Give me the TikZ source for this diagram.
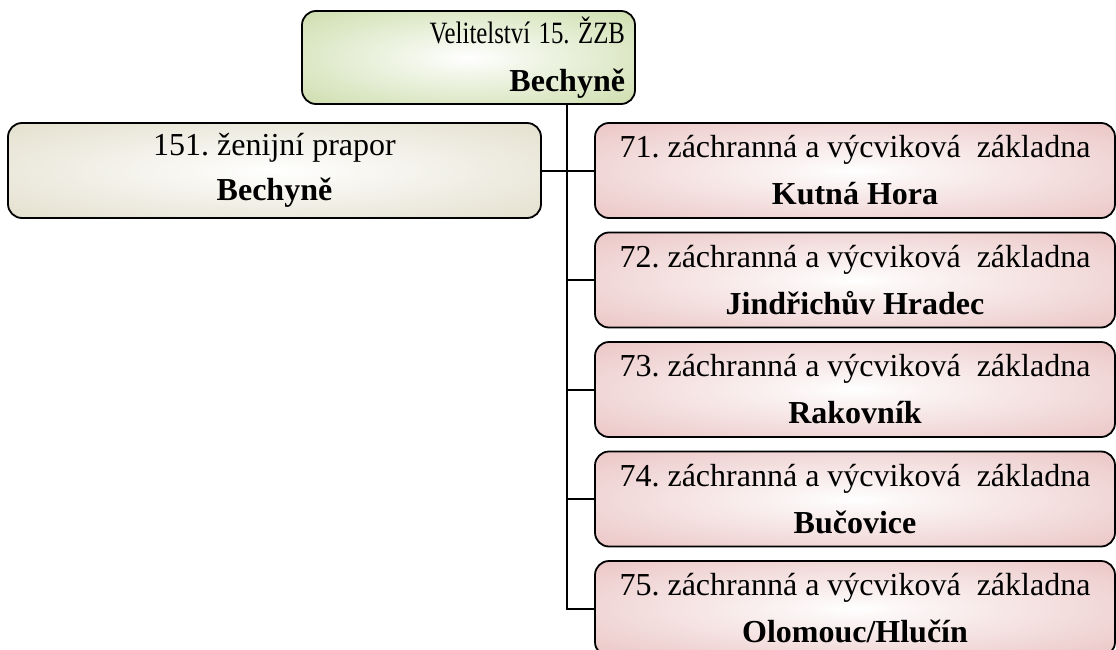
\documentclass[tikz,border=0pt]{standalone}
\usepackage{fontspec}
\setmainfont{Liberation Serif}

\definecolor{hqgreen}{HTML}{C3D69B}
\definecolor{prtan}{HTML}{DDD9C3}
\definecolor{zvzred}{HTML}{E6B9B8}

\pgfdeclareradialshading{hqglow}{\pgfpoint{0bp}{0bp}}{color(0bp)=(white); color(8bp)=(hqgreen!20!white); color(44bp)=(hqgreen); color(50bp)=(hqgreen)}
\pgfdeclareradialshading{prglow}{\pgfpoint{0bp}{0bp}}{color(0bp)=(white); color(8bp)=(prtan!20!white); color(44bp)=(prtan); color(50bp)=(prtan)}
\pgfdeclareradialshading{zvzglow}{\pgfpoint{0bp}{0bp}}{color(0bp)=(white); color(8bp)=(zvzred!20!white); color(44bp)=(zvzred); color(50bp)=(zvzred)}

\tikzset{
  unitbox/.style={draw, line width=1.8pt, rounded corners=14pt, inner sep=0pt},
  hqbox/.style={unitbox, shade, shading=hqglow, text width=313pt, inner xsep=10pt,
    align=right, minimum height=93pt, font=\fontsize{32}{48}\selectfont\frenchspacing},
  prbox/.style={unitbox, shade, shading=prglow, align=center, minimum width=533pt,
    minimum height=95pt, font=\fontsize{32}{45}\selectfont\frenchspacing},
  zvzbox/.style={unitbox, shade, shading=zvzglow, align=center, minimum width=520pt,
    minimum height=95pt, font=\fontsize{32}{47}\selectfont\frenchspacing},
  spoj/.style={line width=2pt}
}

\begin{document}
\begin{tikzpicture}[x=1pt, y=-1pt]
  \useasboundingbox (0,0) rectangle (1116,650);

  \node[hqbox] (hq) at (468.5,57.5) {\scalebox{0.8}[1]{\fontsize{31}{48}\selectfont Velitelství 15. ŽZB}\\ \textbf{Bechyně}};
  \node[prbox] (prapor) at (274.5,170.5) {151. ženijní prapor\\ \textbf{Bechyně}};
  \foreach \n/\mesto [count=\k from 0] in {71/Kutná Hora, 72/Jindřichův Hradec,
      73/Rakovník, 74/Bučovice, 75/{Olomouc/Hlučín}}
    \node[zvzbox] (zvz\n) at (855,170.5+109.5*\k) {\n. záchranná a výcviková\ \ základna\\ \textbf{\mesto}};

  \coordinate (kmen) at (567,0);
  \draw[spoj] (hq.south -| kmen) -- (zvz75.west -| kmen) -- (zvz75.west);
  \draw[spoj] (prapor.east) -- (zvz71.west);
  \foreach \n in {72,73,74}
    \draw[spoj] (zvz\n.west -| kmen) -- (zvz\n.west);
\end{tikzpicture}
\end{document}
